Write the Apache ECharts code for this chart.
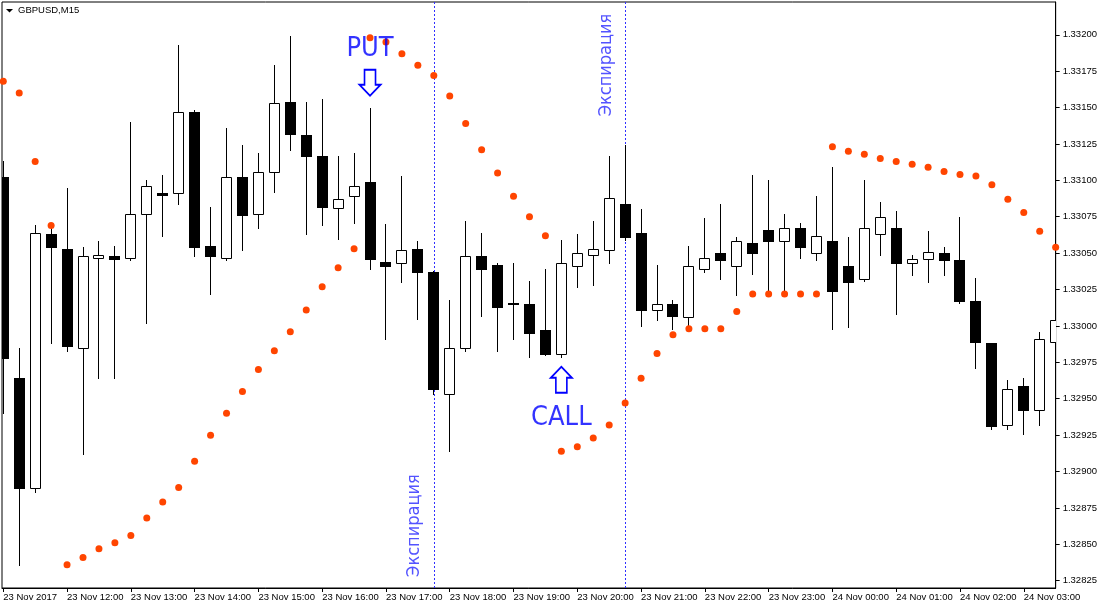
<!DOCTYPE html>
<html><head><meta charset="utf-8">
<script src="https://cdn.jsdelivr.net/npm/echarts@6/dist/echarts.min.js"></script>
<style>html,body{margin:0;padding:0;background:#fff}#c{width:1100px;height:609px}</style>
</head><body><div id="c"></div>
<script>
// ---------- data ----------
const chartTitle = 'GBPUSD,M15';
// M15 bars starting 23 Nov 2017 11:00 (bar index 0)
const timeLabels = ['23 Nov 2017','23 Nov 12:00','23 Nov 13:00','23 Nov 14:00','23 Nov 15:00','23 Nov 16:00','23 Nov 17:00','23 Nov 18:00','23 Nov 19:00','23 Nov 20:00','23 Nov 21:00','23 Nov 22:00','23 Nov 23:00','24 Nov 00:00','24 Nov 01:00','24 Nov 02:00','24 Nov 03:00'];
const labelBars = [0,4,8,12,16,20,24,28,32,36,40,44,48,52,56,60,64];
const openP  = [1.33102,1.32964,1.32889,1.33063,1.33053,1.32985,1.33047,1.33048,1.33047,1.33077,1.33091,1.33091,1.33147,1.33055,1.33047,1.33102,1.33077,1.33106,1.33154,1.33131,1.33117,1.33081,1.33089,1.33099,1.33044,1.33043,1.33053,1.33037,1.32953,1.32985,1.33048,1.33042,1.33016,1.33015,1.32997,1.32981,1.33041,1.33049,1.33052,1.33084,1.33064,1.33011,1.33015,1.33006,1.33039,1.33050,1.33041,1.33057,1.33066,1.33058,1.33067,1.33050,1.33058,1.33041,1.33032,1.33063,1.33067,1.33043,1.33046,1.33050,1.33045,1.33017,1.32988,1.32932,1.32959,1.32942,1.32989];
const highP  = [1.33113,1.32985,1.33069,1.33071,1.33095,1.33054,1.33058,1.33055,1.33140,1.33100,1.33104,1.33193,1.33148,1.33082,1.33136,1.33124,1.33119,1.33179,1.33199,1.33154,1.33156,1.33117,1.33119,1.33150,1.33070,1.33103,1.33058,1.33038,1.33018,1.33072,1.33064,1.33043,1.33043,1.33031,1.33039,1.33059,1.33063,1.33072,1.33117,1.33124,1.33080,1.33042,1.33018,1.33055,1.33074,1.33084,1.33061,1.33104,1.33100,1.33077,1.33071,1.33089,1.33109,1.33061,1.33100,1.33085,1.33079,1.33049,1.33065,1.33054,1.33075,1.33033,1.32988,1.32963,1.32964,1.32996,1.33013];
const lowP   = [1.32940,1.32836,1.32886,1.32988,1.32983,1.32912,1.32964,1.32964,1.33045,1.33002,1.33062,1.33084,1.33048,1.33022,1.33045,1.33052,1.33067,1.33092,1.33121,1.33063,1.33069,1.33060,1.33071,1.33039,1.32991,1.33030,1.33005,1.32953,1.32914,1.32983,1.33007,1.32983,1.32991,1.32979,1.32980,1.32979,1.33027,1.33028,1.33043,1.33059,1.33000,1.33004,1.32998,1.32998,1.33037,1.33032,1.33021,1.33036,1.33021,1.33022,1.33047,1.33045,1.32998,1.32999,1.33031,1.33049,1.33008,1.33035,1.33030,1.33035,1.33016,1.32971,1.32929,1.32929,1.32926,1.32932,1.32983];
const closeP = [1.32978,1.32889,1.33064,1.33054,1.32986,1.33048,1.33049,1.33046,1.33077,1.33096,1.33090,1.33147,1.33054,1.33048,1.33102,1.33076,1.33106,1.33153,1.33132,1.33117,1.33082,1.33087,1.33096,1.33046,1.33041,1.33052,1.33037,1.32957,1.32985,1.33048,1.33039,1.33013,1.33015,1.32995,1.32981,1.33043,1.33050,1.33053,1.33088,1.33061,1.33011,1.33015,1.33007,1.33041,1.33047,1.33045,1.33058,1.33050,1.33058,1.33067,1.33054,1.33062,1.33024,1.33030,1.33067,1.33075,1.33043,1.33046,1.33051,1.33045,1.33017,1.32989,1.32931,1.32957,1.32942,1.32991,1.33004];
const sarP   = [1.33168,1.33160,1.33113,1.33069,1.32836,1.32841,1.32847,1.32851,1.32856,1.32868,1.32879,1.32889,1.32907,1.32925,1.32940,1.32955,1.32970,1.32983,1.32996,1.33011,1.33027,1.33040,1.33053,1.33198,1.33195,1.33187,1.33179,1.33172,1.33158,1.33139,1.33121,1.33105,1.33089,1.33075,1.33062,1.32914,1.32917,1.32923,1.32932,1.32947,1.32964,1.32981,1.32994,1.32998,1.32998,1.32998,1.33010,1.33022,1.33022,1.33022,1.33022,1.33022,1.33123,1.33120,1.33118,1.33115,1.33113,1.33111,1.33109,1.33106,1.33104,1.33103,1.33097,1.33087,1.33078,1.33065,1.33054];
const priceTicks = [1.32825,1.32850,1.32875,1.32900,1.32925,1.32950,1.32975,1.33000,1.33025,1.33050,1.33075,1.33100,1.33125,1.33150,1.33175,1.33200];
// annotations (bar index, price)
const expiryBars = [27, 39];
const expiryText = 'Экспирация';
const expiryAnchors = [[25.81, 1.328276], [37.82, 1.33144]];
const signalText = [['PUT', 23, 1.33190], ['CALL', 35, 1.32937]];
const signalArrows = [['down', 23, 1.33167], ['up', 35, 1.32963]];

// ---------- chart ----------
const chart = echarts.init(document.getElementById('c'), null, {renderer: 'canvas'});
const candleData = openP.map((o, i) => [i, o, closeP[i], lowP[i], highP[i]]);
const sarData = sarP.map((v, i) => [i, v]);
const BLUE = '#0000ff';
const TEXTBLUE = '#2828ff';
const LINEBLUE = '#3030ff';
const bigFont = '"DejaVu Sans Condensed", "Liberation Sans Narrow", "DejaVu Sans", sans-serif';
const smallFont = '"Liberation Sans", Arial, sans-serif';

function renderCandle(params, api) {
  const k = api.value(0), o = api.value(1), c = api.value(2), l = api.value(3), h = api.value(4);
  const pO = api.coord([k, o]), pC = api.coord([k, c]), pL = api.coord([k, l]), pH = api.coord([k, h]);
  const col = Math.round(pO[0] - 0.5);
  const half = 5;
  const yTop = Math.round(Math.min(pO[1], pC[1]));
  const yBot = Math.round(Math.max(pO[1], pC[1]));
  const bull = c > o;
  const children = [{
    type: 'line',
    shape: {x1: col + 0.5, y1: Math.round(pH[1]), x2: col + 0.5, y2: Math.round(pL[1]) + 1},
    style: {stroke: '#000', lineWidth: 1}
  }];
  if (bull) {
    children.push({type: 'rect', shape: {x: col - half + 0.5, y: yTop + 0.5, width: 2 * half, height: Math.max(yBot - yTop, 1)},
      style: {fill: '#fff', stroke: '#000', lineWidth: 1}});
  } else {
    children.push({type: 'rect', shape: {x: col - half, y: yTop, width: 2 * half + 1, height: Math.max(yBot - yTop, 1) + 1},
      style: {fill: '#000'}});
  }
  return {type: 'group', children};
}

const downArrow = 'path://M5,0 L16,0 L16,15 L21,15 L10.5,26 L0,15 L5,15 Z';
const upArrow = 'path://M5,26 L16,26 L16,11 L21,11 L10.5,0 L0,11 L5,11 Z';

chart.setOption({
  animation: false,
  backgroundColor: '#fff',
  graphic: [{
    type: 'polygon', shape: {points: [[6, 9], [13, 9], [9.5, 12.5]]}, style: {fill: '#000'}
  }, {
    type: 'text', left: 18, top: 5,
    style: {text: chartTitle, font: '9.5px ' + smallFont, fill: '#000'}
  }],
  grid: {left: 2, top: 2, right: 44, bottom: 21, show: true, borderColor: '#000', borderWidth: 1, backgroundColor: '#fff'},
  xAxis: {
    type: 'value', min: -0.08, max: 66.0,
    splitLine: {show: false},
    axisLine: {show: true, onZero: false, lineStyle: {color: '#000', width: 1}},
    axisTick: {show: true, inside: false, length: 4, customValues: labelBars, lineStyle: {color: '#000'}},
    axisLabel: {
      customValues: labelBars, align: 'left', margin: 4, color: '#000',
      fontFamily: smallFont, fontSize: 9.5,
      formatter: v => timeLabels[labelBars.indexOf(Math.round(v))] || ''
    }
  },
  yAxis: {
    type: 'value', position: 'right', min: 1.328200, max: 1.332225, scale: true,
    splitLine: {show: false},
    axisLine: {show: true, onZero: false, lineStyle: {color: '#000', width: 1}},
    axisTick: {show: true, inside: false, length: 4, customValues: priceTicks, lineStyle: {color: '#000'}},
    axisLabel: {
      customValues: priceTicks, align: 'left', margin: 7, color: '#000',
      fontFamily: smallFont, fontSize: 9.5,
      formatter: v => v.toFixed(5)
    }
  },
  series: [{
    name: 'expiry', type: 'scatter', z: 1, symbolSize: 1, clip: true,
    itemStyle: {color: 'rgba(0,0,0,0)'},
    data: expiryAnchors.map(a => ({value: a})),
    label: {
      show: true, position: 'inside', rotate: 90, align: 'left', verticalAlign: 'middle',
      formatter: () => expiryText, color: TEXTBLUE, fontFamily: bigFont, fontSize: 18
    },
    markLine: {
      z: 1, silent: true, symbol: ['none', 'none'], label: {show: false},
      lineStyle: {color: LINEBLUE, type: [2, 2], width: 1, opacity: 1},
      emphasis: {disabled: true},
      data: expiryBars.map(b => ({xAxis: b}))
    }
  }, {
    name: 'candles', type: 'custom', z: 2, clip: true,
    renderItem: renderCandle,
    encode: {x: 0, y: [1, 2, 3, 4]},
    data: candleData
  }, {
    name: 'SAR', type: 'scatter', z: 3, clip: true,
    symbol: 'circle', symbolSize: 7,
    itemStyle: {color: '#ff4500', opacity: 1},
    data: sarData
  }, {
    name: 'arrows', type: 'scatter', z: 4,
    data: signalArrows.map(a => ({value: [a[1], a[2]], symbol: a[0] === 'down' ? downArrow : upArrow})),
    symbolSize: [21, 26], symbolKeepAspect: false,
    itemStyle: {color: '#fff', borderColor: BLUE, borderWidth: 1.8, opacity: 1}
  }, {
    name: 'signals', type: 'scatter', z: 4, symbolSize: 1,
    itemStyle: {color: 'rgba(0,0,0,0)'},
    data: signalText.map(s => ({value: [s[1], s[2]], name: s[0]})),
    label: {show: true, position: 'inside', formatter: p => p.name, color: BLUE, fontFamily: bigFont, fontSize: 27}
  }]
});
</script></body></html>
